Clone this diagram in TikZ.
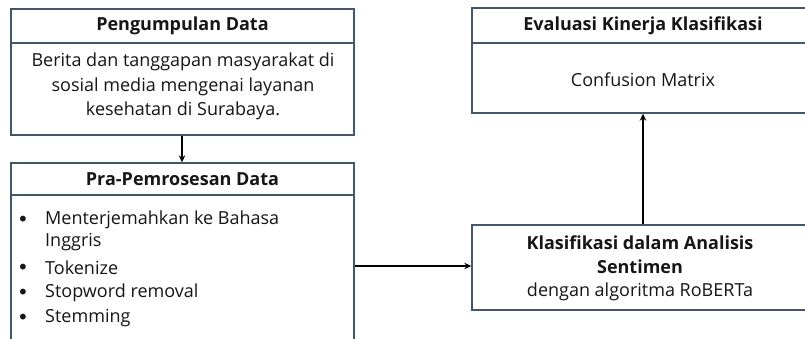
\documentclass[tikz,border=0pt]{standalone}
\usepackage{fontspec}
\setmainfont{Open Sans}
\newfontfamily\dejavu{DejaVu Sans}
\usetikzlibrary{arrows.meta}
\definecolor{edge}{RGB}{68,86,106}
\definecolor{ink}{RGB}{22,22,22}
\tikzset{
  box/.style={draw=edge, line width=1.4pt, inner sep=0pt, fill=white},
  divider/.style={draw=edge, line width=1.4pt},
  hdr/.style={font=\fontsize{18}{24}\selectfont\bfseries, text=ink, inner sep=0pt},
  body/.style={font=\fontsize{18}{24.5}\selectfont, text=ink, inner sep=0pt, align=center},
  item/.style={font=\fontsize{18}{22}\selectfont, text=ink, inner sep=0pt, anchor=west},
  dot/.style={font=\dejavu\fontsize{20}{20}\selectfont, text=ink, inner sep=0pt},
  arr/.style={draw=black, line width=2pt, -{Stealth[length=7pt,width=6.5pt]}}
}
\begin{document}
\begin{tikzpicture}[x=1pt,y=-1pt]
\useasboundingbox (0,0) rectangle (805,338);
\clip (0,0) rectangle (805,338);
% Box 1
\node[box, minimum width=343pt, minimum height=126pt] (b1) at (182.5,72) {};
\draw[divider] (11,43) -- (354,43);
\node[hdr] (h1) at (182.5,26) {Pengumpulan Data};
\node[body] (t1) at (183,86.5) {Berita dan tanggapan masyarakat di\\sosial media mengenai layanan\\kesehatan di Surabaya.};
% Box 2
\node[box, minimum width=343pt, minimum height=206pt] (b2) at (182.5,266) {};
\draw[divider] (11,195) -- (354,195);
\node[hdr] (h2) at (182.5,179) {Pra-Pemrosesan Data};
\node[dot] (d1) at (23,221) {•};
\node[item] (i1) at (45,220) {Menterjemahkan ke Bahasa};
\node[item] (i1b) at (45,242) {Inggris};
\node[dot] (d2) at (23,269) {•};
\node[item] (i2) at (45,268) {Tokenize};
\node[dot] (d3) at (23,294) {•};
\node[item] (i3) at (45,293) {Stopword removal};
\node[dot] (d4) at (23,319) {•};
\node[item] (i4) at (45,318) {Stemming};
% Box 3
\node[box, minimum width=342pt, minimum height=105pt] (b3) at (643,60.5) {};
\draw[divider] (472,43) -- (814,43);
\node[hdr] (h3) at (643,26) {Evaluasi Kinerja Klasifikasi};
\node[body] (t3) at (643,80) {Confusion Matrix};
% Box 4
\node[box, minimum width=342pt, minimum height=85pt] (b4) at (643,267.5) {};
\node[hdr, align=center] (h4) at (640,255) {Klasifikasi dalam Analisis\\Sentimen};
\node[body] (t4) at (640,292) {dengan algoritma RoBERTa};
% Connectors
\draw[arr] ([xshift=-0.5pt]b1.south) -- ([xshift=-0.5pt]b2.north);
\draw[arr] (b2.east |- 0,266) -- (b4.west |- 0,266);
\draw[arr] (b4.north) -- (b3.south);
\end{tikzpicture}
\end{document}
